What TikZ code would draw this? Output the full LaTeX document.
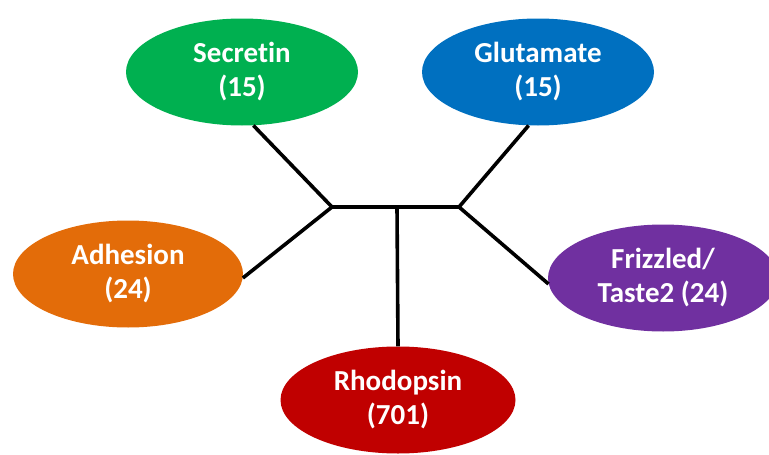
\documentclass[tikz,border=0pt]{standalone}
\usepackage{fontspec}
\setmainfont{Carlito}[Ligatures=NoCommon]
\usetikzlibrary{shapes.geometric}
\definecolor{cgreen}{HTML}{00B050}
\definecolor{cblue}{HTML}{0070C0}
\definecolor{corange}{HTML}{E36C09}
\definecolor{cpurple}{HTML}{7030A0}
\definecolor{cred}{HTML}{C00000}
\begin{document}
\begin{tikzpicture}[x=1pt,y=-1pt,
  fam/.style={ellipse,minimum width=232pt,minimum height=107pt,inner sep=0pt,
    text=white,font=\bfseries\fontsize{29}{34}\selectfont,align=center},
  link/.style={line width=3.6pt,black}]
\useasboundingbox (0,0) rectangle (769,455);
\node[fam,fill=cgreen] (sec) at (242,72) {Secretin\\(15)};
\node[fam,fill=cblue] (glu) at (538,72) {Glutamate\\(15)};
\node[fam,fill=corange,minimum width=230pt] (adh) at (128,274) {Adhesion\\(24)};
\node[fam,fill=cpurple,minimum width=230pt] (fri) at (663,278) {Frizzled/\\Taste2 (24)};
\node[fam,fill=cred,minimum width=235pt] (rho) at (398,400) {Rhodopsin\\(701)};
\coordinate (j1) at (332,207);
\coordinate (j2) at (459,207);
\coordinate (jm) at (397,207);
\draw[link,line cap=rect] (j1) -- (j2);
\draw[link] (sec.-78) -- (j1);
\draw[link] (glu.-100) -- (j2);
\draw[link] (adh.-2) -- (j1);
\draw[link] (fri.183) -- (j2);
\draw[link] (jm) -- (rho.north);
\end{tikzpicture}
\end{document}
